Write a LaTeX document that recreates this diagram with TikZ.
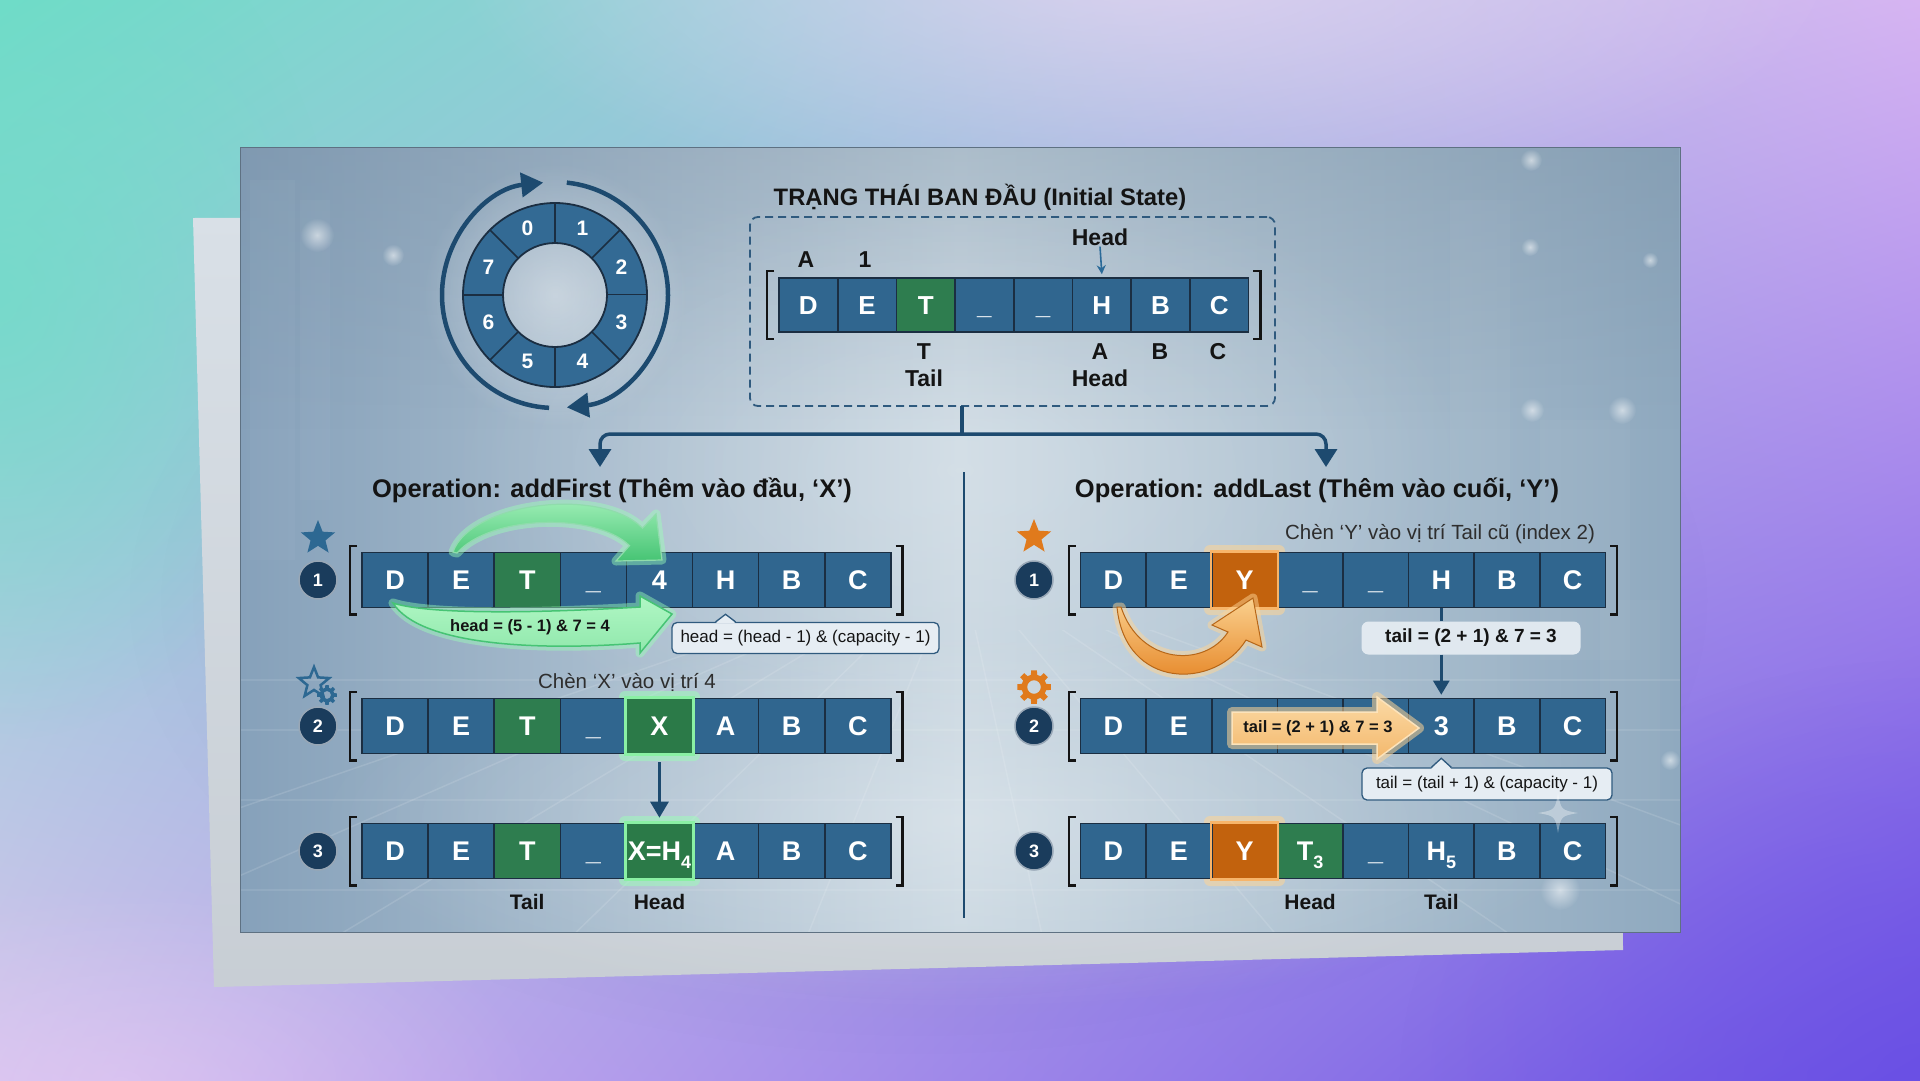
\documentclass[tikz,border=0pt]{standalone}
\usepackage{fontspec}
\setmainfont{Liberation Sans}
\usetikzlibrary{arrows.meta,shapes.geometric,fadings,shadings,calc}
\definecolor{cellblue}{HTML}{30668F}
\definecolor{celledge}{HTML}{1B2E42}
\definecolor{cellgreen}{HTML}{2E7D4F}
\definecolor{hlgreen}{HTML}{2B7A48}
\definecolor{cellorange}{HTML}{C2620D}
\definecolor{navy}{HTML}{1A3C5C}
\definecolor{linkblue}{HTML}{1D4A6F}
\definecolor{ringblue}{HTML}{336A94}
\definecolor{inkdark}{HTML}{141414}
\definecolor{bgTL}{HTML}{6FDCC8}
\definecolor{bgTR}{HTML}{D6B4F2}
\definecolor{bgBL}{HTML}{D4C0EE}
\definecolor{bgBR}{HTML}{6A50E4}
\definecolor{bgPink}{HTML}{F0D6F6}
\definecolor{panelL}{HTML}{86A1BA}
\definecolor{panelM}{HTML}{C8D6E0}
\definecolor{panelR}{HTML}{8FA9BF}
\definecolor{sheetc}{HTML}{D9E0E7}
\definecolor{callfill}{HTML}{E6EDF3}
\definecolor{callborder}{HTML}{2F5A7E}
\definecolor{gLight}{HTML}{B0F7C4}
\definecolor{gDark}{HTML}{46C474}
\definecolor{gGlow}{HTML}{9CFFB8}
\definecolor{gEdge}{HTML}{8AF0A4}
\definecolor{oLight}{HTML}{FAD08E}
\definecolor{oDark}{HTML}{E4801E}
\definecolor{oGlow}{HTML}{FFD595}
\definecolor{oEdge}{HTML}{F7B56A}
\definecolor{iconblue}{HTML}{2D6892}
\definecolor{iconorange}{HTML}{E07A1C}
\definecolor{headarrow}{HTML}{2A6A98}

\tikzfading[name=radfade, inner color=transparent!0, outer color=transparent!100]
\tikzfading[name=topdark, top color=transparent!0, bottom color=transparent!100]

\newcommand\cellfont{\fontsize{27}{27}\selectfont\bfseries}
\newcommand\headfont{\fontsize{25.5}{26}\selectfont\bfseries}
\newcommand\sbs[1]{\raisebox{-0.28em}{\fontsize{18}{18}\selectfont #1}}

% #1 prefix, #2 x0, #3 y centre, #4 cell width, #5 extra style, #6 list colour/label
\newcommand\cellrow[6]{%
  \foreach \cellc/\cellt [count=\i from 0] in {#6} {
    \node[cellbox, #5, fill=\cellc, minimum width=#4] (#1\i) at ({#2+(\i+0.5)*#4},#3) {\cellt};
  }}
\newcommand\brk[2]{%
  \draw[brk] ([xshift=-4pt,yshift=6pt]#1.north west) -- ++(-7,0) |- ([xshift=-4pt,yshift=-6pt]#1.south west);
  \draw[brk] ([xshift=4pt,yshift=6pt]#2.north east) -- ++(7,0) |- ([xshift=4pt,yshift=-6pt]#2.south east);}
% gear: x, y, radius, colour
\newcommand\geargear[4]{%
  \begin{scope}[shift={(#1,#2)}]
  \fill[#4, even odd rule] (-14:#3*0.74) \foreach \g in {0,45,...,315} { -- (\g-14:#3*0.74) -- (\g-10:#3) -- (\g+10:#3) -- (\g+14:#3*0.74) } -- cycle (0,0) circle (#3*0.4);
  \end{scope}}

\begin{document}
\begin{tikzpicture}[x=1pt,y=-1pt,
  cellbox/.style={draw=celledge, line width=1.6, inner sep=0, text=white, font=\cellfont, text height=19.5, text depth=0, minimum height=55},
  brk/.style={draw=inkdark, line width=2.4},
  lbltop/.style={text=inkdark, font=\fontsize{23}{23}\selectfont\bfseries, inner sep=1},
  lblrow/.style={text=inkdark, font=\fontsize{21}{21}\selectfont\bfseries, inner sep=1},
  link/.style={draw=linkblue, line width=3.5},
  numc/.style={circle, fill=navy, draw=white!55!navy, line width=1.5, minimum size=38, inner sep=0, text=white, font=\fontsize{18}{18}\selectfont\bfseries},
  ringnum/.style={text=white, font=\fontsize{21}{21}\selectfont\bfseries, inner sep=0},
  callout/.style={draw=callborder, fill=callfill, rounded corners=5, line width=1.3, inner sep=3, text=inkdark, font=\fontsize{17}{17}\selectfont},
  chen/.style={text=black!82, font=\fontsize{20.5}{21}\selectfont, inner sep=1},
  starico/.style={star, star points=5, star point ratio=2.3, minimum size=36, inner sep=0}
]
\useasboundingbox (0,0) rectangle (1920,1080);

% ---------- page background ----------
\shade[upper left=bgTL, upper right=bgTR, lower left=bgBL, lower right=bgBR] (0,0) rectangle (1920,1080);
\fill[bgPink, opacity=0.7, path fading=radfade] (1150,-40) ellipse (700 and 260);
\fill[bgTL, opacity=0.7, path fading=radfade] (0,300) ellipse (340 and 440);
\fill[bgBR, opacity=0.55, path fading=radfade] (1920,1080) ellipse (520 and 420);
\fill[bgPink, opacity=0.35, path fading=radfade] (120,1080) ellipse (420 and 200);

% ---------- back sheet ----------
\fill[black, opacity=0.10, path fading=radfade] (918,600) ellipse (800 and 460);
\shade[top color=sheetc, bottom color=sheetc!92!black] (193,218) -- (1620,212) -- (1623,950) -- (214,987) -- cycle;

% ---------- main panel ----------
\shade[left color=panelL, right color=panelR, middle color=panelM] (240,147) rectangle (1680,932);
\fill[panelL!85!black, opacity=0.32, path fading=topdark] (240,147) rectangle (1680,430);
\fill[white, opacity=0.28, path fading=radfade] (960,820) ellipse (650 and 190);
\fill[white, opacity=0.22, path fading=radfade] (960,470) ellipse (520 and 300);
\begin{scope}
  \clip (240,630) rectangle (1680,932);
  \foreach \xx in {-900,-500,...,2900} \draw[white, opacity=0.12, line width=1.5] (960,560) -- (\xx,1200);
  \foreach \yy in {680,730,800,890} \draw[white, opacity=0.09, line width=1.2] (240,\yy) -- (1680,\yy);
\end{scope}
\foreach \px/\py/\pw/\ph in {250/180/45/380, 300/200/30/300, 1450/200/60/500, 1540/420/90/240, 1600/600/60/200}
  \fill[white, opacity=0.03] (\px,\py) rectangle ++(\pw,\ph);
\foreach \px/\py/\pr in {317/235/17, 393/255/11, 1531/160/11, 1530/247/9, 1532/410/12, 1622/410/14, 1650/260/8, 1560/890/20, 1670/760/10}
  \fill[white, opacity=0.55, path fading=radfade] (\px,\py) circle (\pr);
\draw[panelL!70!black, line width=0.8] (240,147) rectangle (1680,932);

% ---------- ring ----------
\begin{scope}[shift={(555,295)}, yscale=-1]
  \fill[white, opacity=0.45, path fading=radfade] (0,0) circle (132);
  \foreach \k in {0,...,7} {
    \pgfmathsetmacro\aa{45*\k}
    \fill[ringblue] (\aa:52) arc[start angle=\aa, end angle=\aa+45, radius=52] -- (\aa+45:92) arc[start angle=\aa+45, end angle=\aa, radius=92] -- cycle;
    \draw[celledge, line width=1.5] (\aa:52) -- (\aa:92);
  }
  \draw[celledge, line width=1.8] (0,0) circle (52) (0,0) circle (92);
  \foreach \k in {0,...,7} \node[ringnum] (rn\k) at ({112.5-45*\k}:72) {\k};
  \draw[linkblue, line width=4.5, -{Triangle[length=22,width=24]}] (267:113) arc[start angle=267, end angle=96, radius=113];
  \draw[linkblue, line width=4.5, -{Triangle[length=22,width=24]}] (84:113) arc[start angle=84, end angle=-84, radius=113];
\end{scope}

% ---------- initial state ----------
\node[text=inkdark, font=\fontsize{23.8}{24}\selectfont\bfseries] (ttl) at (980,197) {TRẠNG THÁI BAN ĐẦU (Initial State)};
\node[draw=callborder, dash pattern=on 8pt off 5pt, line width=1.8, rounded corners=8, minimum width=525, minimum height=189, inner sep=0] (initbox) at (1012.5,311.5) {};
\cellrow{T}{779}{305}{58.7}{minimum height=54, font=\fontsize{26}{26}\selectfont\bfseries}{cellblue/D,cellblue/E,cellgreen/T,cellblue/\_,cellblue/\_,cellblue/H,cellblue/B,cellblue/C}
\brk{T0}{T7}
\node[lbltop] (tA) at (806,260) {A};
\node[lbltop] (t1) at (865,260) {1};
\node[lbltop] (tHd) at (1100,237) {Head};
\draw[headarrow, line width=1.6, -{Stealth[length=9,width=9]}] (tHd.south) -- ([yshift=3pt]T5.north);
\node[lbltop] (tT) at (924,352) {T};
\node[lbltop] (tTail) at (924,378) {Tail};
\node[lbltop] (tA2) at (1100,352) {A};
\node[lbltop] (tHead) at (1100,378) {Head};
\node[lbltop] (tB) at (1160,352) {B};
\node[lbltop] (tC) at (1218,352) {C};

% ---------- tree ----------
\coordinate (boxbot) at (962,406);
\coordinate (split) at (962,434);
\coordinate (arrL) at (600,467);
\coordinate (arrR) at (1326,467);
\draw[link] (boxbot) -- (split);
\draw[link, rounded corners=10, -{Triangle[length=18,width=22]}] (split) -| (arrL);
\draw[link, rounded corners=10, -{Triangle[length=18,width=22]}] (split) -| (arrR);
\coordinate (divT) at (964,472);
\coordinate (divB) at (964,918);
\draw[linkblue, line width=2.5] (divT) -- (divB);

\node[text=inkdark, font=\headfont] (hL) at (612,490) {Operation: addFirst (Thêm vào đầu, ‘X’)};
\node[text=inkdark, font=\headfont] (hR) at (1317,490) {Operation: addLast (Thêm vào cuối, ‘Y’)};
\coordinate (rowLbl) at (0,902);

% ---------- LEFT row 1 ----------
\node[starico, fill=iconblue] (icoL1) at (318,538) {};
\node[numc] (nL1) at (318,580) {1};
\cellrow{La}{362}{580}{66.1}{}{cellblue/D,cellblue/E,cellgreen/T,cellblue/\_,cellblue/4,cellblue/H,cellblue/B,cellblue/C}
\brk{La0}{La7}
\def\gUpper{(453,552) .. controls (470,503) and (600,486) .. (642.5,528) -- (656,514) -- (662,560) -- (616,561) -- (629.5,545.6) .. controls (595,512) and (490,515) .. (457,553) -- cycle}
\def\gLower{(393,603) .. controls (430,615) and (540,613) .. (640,607) -- (640,596) -- (672,614) -- (640,653) -- (640,643) .. controls (540,651) and (420,646) .. (393,603) -- cycle}
\draw[gGlow, opacity=0.45, line width=9, line join=round] \gUpper;
\shade[top color=gLight, bottom color=gDark, draw=white!40!gDark, line width=1.2] \gUpper;
\draw[gGlow, opacity=0.45, line width=9, line join=round] \gLower;
\shade[top color=gLight, bottom color=gLight!70!gDark, draw=gDark, line width=1.5] \gLower;
\node[text=inkdark, font=\fontsize{16.5}{17}\selectfont\bfseries] (gTxt) at (530,627) {head = (5 - 1) \& 7 = 4};
\node[callout, minimum width=267, minimum height=31] (hcall) at (805.5,638) {head = (head - 1) \& (capacity - 1)};
\coordinate (hcTip) at ([yshift=-6pt]La5.south);
\path (hcTip |- hcall.north) coordinate (hcBase);
\fill[callfill] ([xshift=-10pt,yshift=-1.5pt]hcBase) -- (hcTip) -- ([xshift=10pt,yshift=-1.5pt]hcBase) -- cycle;
\draw[callborder, line width=1.3] ([xshift=-10pt]hcBase) -- (hcTip) -- ([xshift=10pt]hcBase);

% ---------- LEFT row 2 ----------
\node[starico, draw=iconblue, line width=2.5, minimum size=32] (icoL2) at (314,683) {};
\geargear{327}{695}{10}{iconblue}
\node[numc] (nL2) at (318,726) {2};
\node[chen] (chenX) at (627,682) {Chèn ‘X’ vào vị trí 4};
\fill[gGlow, opacity=0.5, rounded corners=6] (619,691) rectangle (700,761);
\cellrow{Lb}{362}{726}{66.1}{}{cellblue/D,cellblue/E,cellgreen/T,cellblue/\_,hlgreen/X,cellblue/A,cellblue/B,cellblue/C}
\draw[gEdge, line width=2.8] (Lb4.north west) rectangle (Lb4.south east);
\brk{Lb0}{Lb7}

% ---------- LEFT row 3 ----------
\node[numc] (nL3) at (318,851) {3};
\fill[gGlow, opacity=0.5, rounded corners=6] (619,816) rectangle (700,886);
\cellrow{Lc}{362}{851}{66.1}{}{cellblue/D,cellblue/E,cellgreen/T,cellblue/\_,hlgreen/{X=H\sbs{4}},cellblue/A,cellblue/B,cellblue/C}
\draw[gEdge, line width=2.8] (Lc4.north west) rectangle (Lc4.south east);
\brk{Lc0}{Lc7}
\draw[linkblue, line width=3, -{Triangle[length=16,width=18]}] ([yshift=-8pt]Lb4.south) -- ([yshift=5pt]Lc4.north);
\node[lblrow] (lTail) at (Lc2 |- rowLbl) {Tail};
\node[lblrow] (lHead) at (Lc4 |- rowLbl) {Head};

% ---------- RIGHT row 1 ----------
\node[starico, fill=iconorange] (icoR1) at (1034,537) {};
\node[numc] (nR1) at (1034,580) {1};
\node[chen] (chenY) at (1440,534) {Chèn ‘Y’ vào vị trí Tail cũ (index 2)};
\fill[oGlow, opacity=0.55, rounded corners=6] (1204,545) rectangle (1285,615);
\cellrow{Ra}{1080.5}{580}{65.6}{}{cellblue/D,cellblue/E,cellorange/Y,cellblue/\_,cellblue/\_,cellblue/H,cellblue/B,cellblue/C}
\draw[oEdge, line width=2.5] (Ra2.north west) rectangle (Ra2.south east);
\brk{Ra0}{Ra7}
\def\oCurve{(1117,607) .. controls (1125,690) and (1215,690) .. (1246,640) -- (1262,647) -- (1253,598) -- (1212,625) -- (1228,632) .. controls (1205,668) and (1140,665) .. (1121,607) -- cycle}
\draw[oGlow, opacity=0.5, line width=9, line join=round] \oCurve;
\shade[top color=oLight, bottom color=oDark, draw=oDark!80!black, line width=1] \oCurve;
\node[fill=callfill, fill opacity=0.92, text opacity=1, rounded corners=7, minimum width=219, minimum height=33, inner sep=2, text=inkdark, font=\fontsize{19}{19}\selectfont\bfseries] (tailbox) at (1471,638) {tail = (2 + 1) \& 7 = 3};

% ---------- RIGHT row 2 ----------
\geargear{1034}{687}{17}{iconorange}
\node[numc] (nR2) at (1034,726) {2};
\cellrow{Rb}{1080.5}{726}{65.6}{}{cellblue/D,cellblue/E,cellblue/{},cellblue/{},cellblue/{},cellblue/3,cellblue/B,cellblue/C}
\brk{Rb0}{Rb7}
\draw[linkblue, line width=2.5] (Ra5.south) -- (Ra5.south |- tailbox.north);
\draw[linkblue, line width=2.5, -{Triangle[length=14,width=16]}] (Ra5.south |- tailbox.south) -- ([yshift=3pt]Rb5.north);
\def\oBlock{(1232,712) -- (1377,712) -- (1377,697) -- (1419,728) -- (1377,759) -- (1377,744) -- (1232,744) -- cycle}
\draw[oGlow, opacity=0.55, line width=10, line join=round] \oBlock;
\shade[top color=oLight!80!white, bottom color=oLight!70!oDark, draw=oLight!60!white, line width=1.5] \oBlock;
\node[text=inkdark, font=\fontsize{16.5}{17}\selectfont\bfseries] (oTxt) at (1318,728) {tail = (2 + 1) \& 7 = 3};
\node[callout, minimum width=250, minimum height=32] (tcall) at (1487,784) {tail = (tail + 1) \& (capacity - 1)};
\coordinate (tcTip) at ([yshift=-4pt]Rb5.south);
\path (tcTip |- tcall.north) coordinate (tcBase);
\fill[callfill] ([xshift=-10pt,yshift=-1.5pt]tcBase) -- (tcTip) -- ([xshift=10pt,yshift=-1.5pt]tcBase) -- cycle;
\draw[callborder, line width=1.3] ([xshift=-10pt]tcBase) -- (tcTip) -- ([xshift=10pt]tcBase);

% ---------- RIGHT row 3 ----------
\node[numc] (nR3) at (1034,851) {3};
\fill[oGlow, opacity=0.55, rounded corners=6] (1204,816) rectangle (1285,886);
\cellrow{Rc}{1080.5}{851}{65.6}{}{cellblue/D,cellblue/E,cellorange/Y,cellgreen/{T\sbs{3}},cellblue/\_,cellblue/{H\sbs{5}},cellblue/B,cellblue/C}
\draw[oEdge, line width=2.5] (Rc2.north west) rectangle (Rc2.south east);
\brk{Rc0}{Rc7}
\node[lblrow] (rHead) at (Rc3 |- rowLbl) {Head};
\node[lblrow] (rTail) at (Rc5 |- rowLbl) {Tail};

% sparkle
\fill[white, opacity=0.35] (1558,793) .. controls (1561,810) .. (1578,813) .. controls (1561,816) .. (1558,833) .. controls (1555,816) .. (1538,813) .. controls (1555,810) .. (1558,793);
\end{tikzpicture}
\end{document}
